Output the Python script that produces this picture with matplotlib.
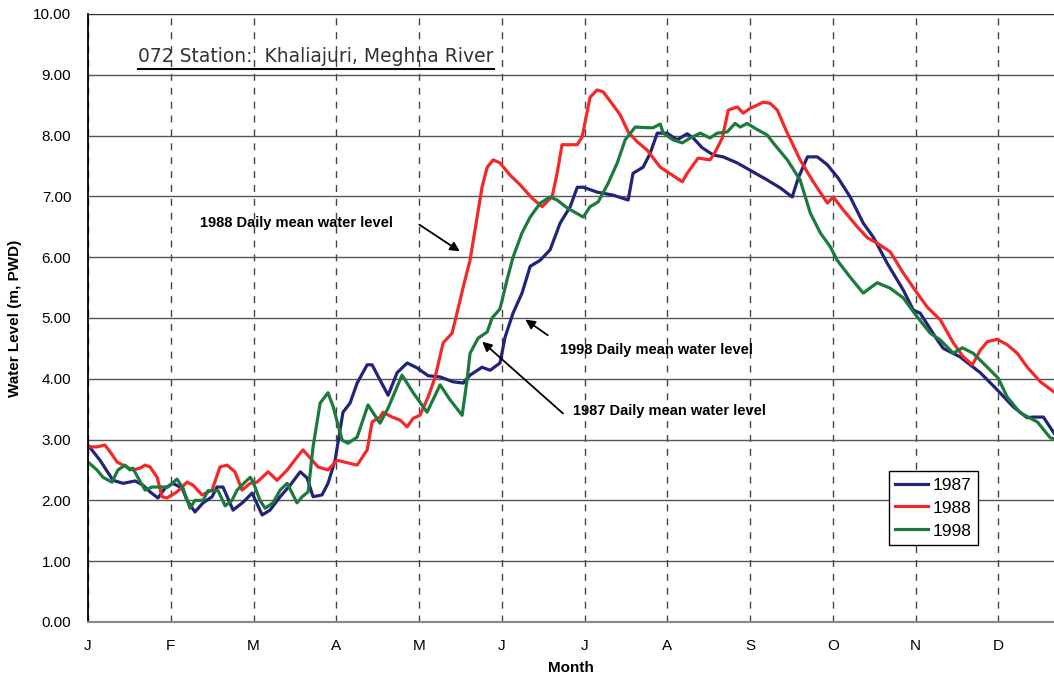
import matplotlib
matplotlib.use("Agg")
import matplotlib.pyplot as plt
import numpy as np
from matplotlib.lines import Line2D

plt.rcParams['font.family'] = ['Liberation Sans', 'DejaVu Sans']

# month axis labels, x is day of year
month_labels = ["J", "F", "M", "A", "M", "J", "J", "A", "S", "O", "N", "D"]

# 1987 daily mean water level (m, PWD)
days_1987 = [0, 4.4, 9.2, 12.9, 17.3, 20.2, 22.8, 25.7, 28.3, 31.2, 34.6, 36.4, 39.3, 42.3, 45.6,
             47.4, 49.6, 53.3, 57.0, 60.3, 64.0, 66.9, 70.6, 74.3, 78.0, 80.5, 82.7, 86.0, 88.2,
             90.8, 93.7, 96.3, 98.9, 102.6, 104.4, 107.3, 110.3, 113.6, 117.3, 120.9, 125.0,
             129.4, 134.2, 137.9, 140.4, 144.8, 147.8, 151.4, 153.3, 156.2, 159.5, 162.5, 166.2,
             169.8, 173.5, 177.2, 179.8, 182.0, 187.1, 193.0, 198.5, 200.3, 204.0, 206.6, 209.2,
             212.8, 216.5, 220.2, 222.4, 225.7, 229.8, 233.4, 238.6, 244.5, 249.6, 254.4, 258.8,
             261.0, 264.4, 268.0, 271.7, 275.7, 280.1, 284.9, 288.6, 293.7, 299.6, 303.3, 305.8,
             312.1, 314.3, 320.5, 327.9, 334.1, 340.0, 345.1, 347.4, 351.1, 355.1]
level_1987 = [2.91, 2.66, 2.33, 2.28, 2.32, 2.25, 2.14, 2.04, 2.20, 2.28, 2.20, 2.0, 1.81, 1.96, 2.06,
              2.22, 2.22, 1.84, 1.97, 2.12, 1.76, 1.84, 2.06, 2.25, 2.47, 2.37, 2.06, 2.09, 2.28,
              2.66, 3.45, 3.6, 3.93, 4.23, 4.23, 3.98, 3.73, 4.1, 4.26, 4.18, 4.05,
              4.03, 3.95, 3.93, 4.06, 4.19, 4.14, 4.26, 4.69, 5.08, 5.41, 5.85, 5.95,
              6.12, 6.56, 6.83, 7.15, 7.15, 7.07, 7.02, 6.94, 7.38, 7.48, 7.71, 8.04,
              8.04, 7.93, 8.03, 7.96, 7.8, 7.68, 7.65, 7.55, 7.4, 7.27, 7.14, 6.99,
              7.3, 7.65, 7.65, 7.52, 7.3, 6.99, 6.56, 6.33, 5.9, 5.46, 5.13, 5.08,
              4.64, 4.5, 4.36, 4.1, 3.82, 3.54, 3.36, 3.37, 3.37, 3.1]

# 1988 daily mean water level
days_1988 = [0, 3.3, 6.2, 8.1, 10.7, 12.9, 16.5, 19.1, 21.0, 22.8, 25.4, 27.2, 29.0, 32.7, 36.4,
             38.6, 41.9, 45.6, 48.5, 51.1, 54.0, 56.6, 59.6, 62.1, 66.2, 69.5, 73.2, 76.8, 79.0,
             81.6, 84.5, 88.2, 91.5, 95.2, 98.9, 102.6, 104.4, 107.3, 108.4, 111.8, 114.7, 117.3,
             119.5, 122.0, 125.0, 127.6, 130.5, 133.8, 135.6, 137.9, 140.4, 143.0, 144.8, 146.7,
             148.9, 151.4, 155.1, 158.8, 163.2, 166.9, 170.6, 172.4, 174.2, 179.8, 181.6, 184.5,
             187.1, 189.3, 193.0, 195.6, 198.5, 201.8, 205.5, 210.3, 214.7, 218.4, 220.2, 224.2,
             228.6, 230.5, 233.1, 235.3, 238.6, 240.8, 243.4, 245.9, 248.1, 250.7, 253.3, 257.0,
             261.7, 266.1, 271.7, 273.9, 277.5, 282.7, 286.4, 290.0, 294.8, 299.6, 304.7, 308.4,
             313.2, 318.0, 321.7, 325.0, 327.9, 330.5, 334.1, 337.8, 341.5, 345.2, 350.0, 355.1]
level_1988 = [2.88, 2.88, 2.91, 2.8, 2.63, 2.58, 2.5, 2.53, 2.58, 2.55, 2.38, 2.06, 2.04, 2.14, 2.3,
              2.25, 2.09, 2.17, 2.55, 2.58, 2.47, 2.17, 2.28, 2.3, 2.47, 2.33, 2.5, 2.71, 2.83,
              2.7, 2.55, 2.5, 2.66, 2.62, 2.58, 2.83, 3.29, 3.37, 3.45, 3.37, 3.32, 3.21,
              3.35, 3.4, 3.7, 4.03, 4.59, 4.75, 5.08, 5.51, 5.95, 6.66, 7.15, 7.48,
              7.6, 7.55, 7.35, 7.19, 6.97, 6.83, 7.0, 7.38, 7.85, 7.85, 7.98, 8.63,
              8.75, 8.72, 8.5, 8.34, 8.06, 7.9, 7.76, 7.48, 7.35, 7.24, 7.38, 7.63,
              7.6, 7.73, 7.96, 8.42, 8.47, 8.37, 8.45, 8.5, 8.55, 8.53, 8.42, 8.04,
              7.6, 7.27, 6.89, 6.99, 6.78, 6.5, 6.32, 6.23, 6.09, 5.74, 5.41, 5.18,
              4.97, 4.59, 4.36, 4.23, 4.47, 4.61, 4.65, 4.56, 4.42, 4.19, 3.95, 3.78]

# 1998 daily mean water level
days_1998 = [0, 3.3, 5.5, 8.8, 11.0, 13.6, 15.4, 16.5, 18.4, 21.0, 23.5, 26.5, 29.4, 32.7, 34.9,
             37.5, 39.3, 42.3, 44.1, 47.8, 50.4, 52.9, 54.8, 57.7, 59.6, 60.7, 63.2, 65.1, 68.0,
             70.6, 73.2, 76.8, 78.7, 80.9, 82.7, 85.3, 88.2, 90.1, 93.4, 95.6, 98.9, 102.9, 107.3,
             110.3, 115.4, 119.5, 124.6, 129.4, 133.1, 137.5, 139.3, 140.4, 143.4, 146.7, 148.5,
             151.4, 154.0, 156.2, 159.5, 162.5, 166.2, 169.8, 172.4, 176.1, 182.0, 184.5, 187.5,
             191.2, 194.5, 197.4, 201.1, 205.5, 207.7, 210.3, 211.4, 215.0, 218.4, 221.3, 225.0,
             228.6, 231.2, 234.9, 237.8, 239.7, 242.2, 245.9, 249.6, 251.8, 257.0, 261.7, 265.4,
             269.1, 272.8, 275.3, 280.1, 284.9, 290.0, 294.8, 299.6, 304.7, 309.5, 313.2, 318.0,
             321.3, 325.3, 330.5, 334.5, 337.8, 342.6, 348.9, 353.6, 355.1]
level_1998 = [2.63, 2.5, 2.38, 2.3, 2.5, 2.58, 2.5, 2.53, 2.37, 2.17, 2.22, 2.22, 2.22, 2.35, 2.2,
              1.87, 2.0, 2.0, 2.16, 2.16, 1.91, 2.0, 2.17, 2.3, 2.38, 2.3, 2.0, 1.87, 1.96,
              2.17, 2.28, 1.96, 2.06, 2.14, 2.88, 3.6, 3.77, 3.54, 2.99, 2.94, 3.04, 3.57, 3.27,
              3.52, 4.06, 3.77, 3.45, 3.9, 3.65, 3.4, 3.98, 4.42, 4.67, 4.77, 5.0,
              5.15, 5.63, 6.0, 6.4, 6.66, 6.89, 6.99, 6.94, 6.81, 6.66, 6.83, 6.91,
              7.22, 7.55, 7.93, 8.14, 8.13, 8.13, 8.19, 8.04, 7.93, 7.88, 7.96, 8.04,
              7.96, 8.04, 8.06, 8.2, 8.14, 8.2, 8.1, 8.01, 7.88, 7.6, 7.27, 6.73,
              6.4, 6.17, 5.95, 5.67, 5.41, 5.58, 5.49, 5.33, 5.02, 4.75, 4.64, 4.42,
              4.51, 4.42, 4.19, 4.01, 3.7, 3.44, 3.29, 3.03, 3.01]

fig = plt.figure(figsize=(10.54, 6.82), dpi=100)
ax = fig.add_axes([0.0835, 0.088, 0.9165, 0.8915])

ax.plot(days_1987, level_1987, color="#23237a", lw=2.3, label="1987")
ax.plot(days_1988, level_1988, color="#f42828", lw=2.3, label="1988")
ax.plot(days_1998, level_1998, color="#1c7a3c", lw=2.3, label="1998")

month_pos = np.arange(12) * 365 / 12
ax.set_xlim(0, 355)
ax.set_ylim(0, 10)
ax.set_xticks(month_pos)
ax.set_xticklabels(month_labels)
ax.set_yticks(np.arange(0, 11, 1))
ax.set_yticklabels([f"{v:.2f}" for v in np.arange(0, 11, 1)])
ax.tick_params(axis="both", length=0, labelsize=11)
ax.tick_params(axis="y", pad=12)
ax.tick_params(axis="x", pad=12)

ax.yaxis.grid(True, color="#555555", lw=1, ls="-")
ax.xaxis.grid(True, color="#444444", lw=1, ls=(0, (5, 5)))
ax.set_axisbelow(True)
ax.spines["right"].set_visible(False)
ax.spines["top"].set_color("#333333")
ax.spines["left"].set_color("black")
ax.spines["left"].set_linewidth(1.3)
ax.spines["bottom"].set_color("#888888")
ax.spines["bottom"].set_linewidth(1.5)

ax.set_xlabel("Month", fontsize=11, fontweight="bold", labelpad=6)
ax.set_ylabel("Water Level (m, PWD)", fontsize=11, fontweight="bold", labelpad=8)

title = ax.text(18.4, 9.3, "072 Station:  Khaliajuri, Meghna River", fontsize=13.5,
                family=["DejaVu Sans"], color="#333333",
                ha="left", va="center")

# annotations
arrow = dict(arrowstyle="-|>", color="black", lw=1.3, mutation_scale=14)
ax.text(41.2, 6.57, "1988 Daily mean water level", fontsize=10.5, fontweight="bold", va="center")
ax.annotate("", xy=(137.5, 6.07), xytext=(120.9, 6.56), arrowprops=arrow)
ax.text(173.5, 4.47, "1998 Daily mean water level", fontsize=10.5, fontweight="bold", va="center")
ax.annotate("", xy=(159.9, 5.0), xytext=(169.8, 4.69), arrowprops=arrow)
ax.text(178.3, 3.47, "1987 Daily mean water level", fontsize=10.5, fontweight="bold", va="center")
ax.annotate("", xy=(144.1, 4.64), xytext=(175.3, 3.4), arrowprops=arrow)

leg = ax.legend(loc="upper left", bbox_to_anchor=(0.82, 0.262),
                prop={"family": ["Liberation Sans Narrow", "Liberation Sans"], "size": 12.5},
                handlelength=1.9, handletextpad=0.3, borderpad=0.35, labelspacing=0.45,
                fancybox=False, framealpha=1, edgecolor="black")
leg.get_frame().set_linewidth(1.0)

# underline the station title
fig.canvas.draw()
bb = title.get_window_extent().transformed(fig.transFigure.inverted())
fig.add_artist(Line2D([bb.x0, bb.x1], [bb.y0 - 0.004, bb.y0 - 0.004],
                      transform=fig.transFigure, color="black", lw=1.5))

fig.savefig("out.png", dpi=100)
